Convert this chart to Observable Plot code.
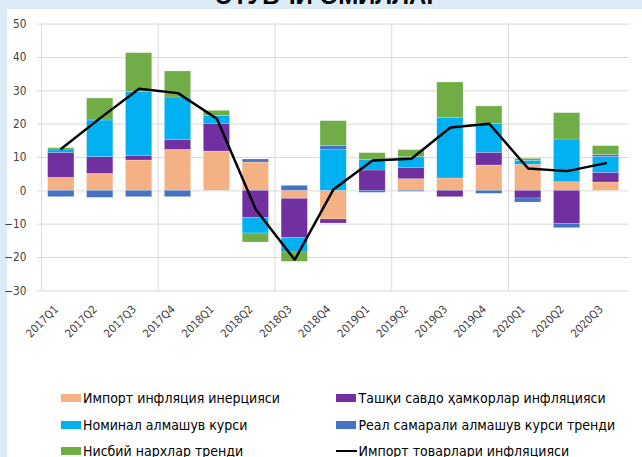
<!DOCTYPE html>
<html><head><meta charset="utf-8">
<script src="https://cdn.jsdelivr.net/npm/d3@7"></script>
<script src="https://cdn.jsdelivr.net/npm/@observablehq/plot@0.6"></script>
<style>
html,body{margin:0;padding:0;width:642px;height:457px;overflow:hidden;background:#DDEBF7;font-family:"Liberation Sans Narrow","Arial Narrow","DejaVu Sans Condensed",sans-serif;}
#title{position:absolute;top:-16px;left:0;width:658px;text-align:center;font:bold 24px/24px "Liberation Sans",Arial,sans-serif;color:#000;white-space:nowrap;}
#panel{position:absolute;left:7px;top:9px;right:0;bottom:0;background:#fff;}
#chart{position:absolute;left:0;top:0;}
.leg{position:absolute;font-size:14px;line-height:16px;color:#000;white-space:nowrap;}
.sw{position:absolute;width:20px;height:8px;}
.ln{position:absolute;width:21px;height:2px;background:#000;}
</style></head>
<body>
<div id="title">ЭТУВЧИ ОМИЛЛАР</div>
<div id="panel"></div>
<div id="chart"></div>
<div id="legend"></div>
<script>
const quarters = ["2017Q1","2017Q2","2017Q3","2017Q4","2018Q1","2018Q2","2018Q3","2018Q4","2019Q1","2019Q2","2019Q3","2019Q4","2020Q1","2020Q2","2020Q3"];
const seriesNames = ["Импорт инфляция инерцияси","Ташқи савдо ҳамкорлар инфляцияси","Номинал алмашув курси","Реал самарали алмашув курси тренди","Нисбий нархлар тренди"];
const lineName = "Импорт товарлари инфляцияси";
const seriesColors = ["#F4B183","#7030A0","#00B0F0","#4472C4","#70AD47"];
const importInertia = [3.9, 5.1, 9.1, 12.3, 11.8, 8.5, -2.4, -8.6, 0, 3.5, 3.7, 7.6, 7.8, 2.6, 2.5];
const partnerInflation = [7.5, 5.0, 1.3, 2.9, 8.3, -8.2, -11.7, -1.2, 6.1, 3.4, -1.9, 3.8, -2.3, -10.0, 2.9];
const nominalFx = [1.0, 11.0, 19.2, 12.8, 2.4, -4.6, -4.4, 12.2, 3.2, 3.2, 18.1, 8.7, 1.2, 12.8, 4.7];
const reerTrend = [-1.9, -2.1, -1.9, -1.9, 0, 0.9, 1.5, 1.2, -0.6, -0.3, 0, -0.9, -1.2, -1.2, 0.7];
const relativePrices = [0.4, 6.6, 11.7, 7.8, 1.5, -2.7, -2.8, 7.5, 2.0, 2.1, 10.7, 5.2, 0.6, 7.9, 2.6];
const importInflation = [12.6, 21.8, 30.6, 29.3, 21.6, -5.6, -20.7, 0.5, 9.1, 9.6, 19.0, 20.1, 6.7, 5.9, 8.3];
const yTicks = [-30,-20,-10,0,10,20,30,40,50];
const vGridAt = ["2017Q1","2017Q4","2018Q3","2019Q2","2020Q1"];

const seriesValues = [importInertia, partnerInflation, nominalFx, reerTrend, relativePrices];
const bars = [];
seriesNames.forEach((s, k) => quarters.forEach((q, i) => bars.push({q, series: s, value: seriesValues[k][i]})));
const lineData = quarters.map((q, i) => ({q, value: importInflation[i]}));

const W = 660, H = 350;
const plot = Plot.plot({
  width: W, height: H,
  marginLeft: 37.7, marginRight: 13.3, marginTop: 24.3, marginBottom: 51.5,
  style: {background: "transparent", fontFamily: '"Liberation Sans Narrow","Arial Narrow","DejaVu Sans Condensed",sans-serif'},
  x: {domain: quarters, paddingInner: 0.32, paddingOuter: 0.16, label: null},
  y: {domain: [-30, 50], label: null},
  color: {domain: seriesNames, range: seriesColors},
  marks: [
    Plot.ruleY(yTicks, {stroke: "#D9D9D9", strokeWidth: 1}),
    Plot.ruleX(vGridAt, {x: d => d, dx: -20.3, stroke: "#D9D9D9", strokeWidth: 1}),
    Plot.barY(bars, Plot.stackY({x: "q", y: "value", z: "series", fill: "series", order: seriesNames, stroke: "#ffffff", strokeOpacity: 0.35, strokeWidth: 0.6})),
    Plot.line(lineData, {x: "q", y: "value", stroke: "#000", strokeWidth: 2.5, strokeLinejoin: "miter"}),
    Plot.axisY(yTicks, {tickSize: 0, tickPadding: 11, fontSize: 12, fill: "#404040"}),
    Plot.axisX({tickSize: 0, tickPadding: 6, tickRotate: -45, fontSize: 11.5, fill: "#404040", dx: -5, dy: 11})
  ]
});
document.getElementById("chart").appendChild(plot);

// legend
const legend = document.getElementById("legend");
const legItems = [
  {name: seriesNames[0], color: seriesColors[0], col: 0, row: 0},
  {name: seriesNames[1], color: seriesColors[1], col: 1, row: 0},
  {name: seriesNames[2], color: seriesColors[2], col: 0, row: 1},
  {name: seriesNames[3], color: seriesColors[3], col: 1, row: 1},
  {name: seriesNames[4], color: seriesColors[4], col: 0, row: 2},
  {name: lineName, color: null, col: 1, row: 2}
];
const colX = [60.5, 336], rowY = [398, 424.5, 451];
legItems.forEach(it => {
  const x = colX[it.col], y = rowY[it.row];
  const m = document.createElement("div");
  if (it.color) { m.className = "sw"; m.style.background = it.color; m.style.left = x + "px"; m.style.top = (y - 4) + "px"; }
  else { m.className = "ln"; m.style.left = x + "px"; m.style.top = (y - 1) + "px"; }
  legend.appendChild(m);
  const t = document.createElement("div");
  t.className = "leg"; t.textContent = it.name;
  t.style.left = (x + 22.5) + "px"; t.style.top = (y - 8) + "px";
  legend.appendChild(t);
});
</script>
</body></html>
